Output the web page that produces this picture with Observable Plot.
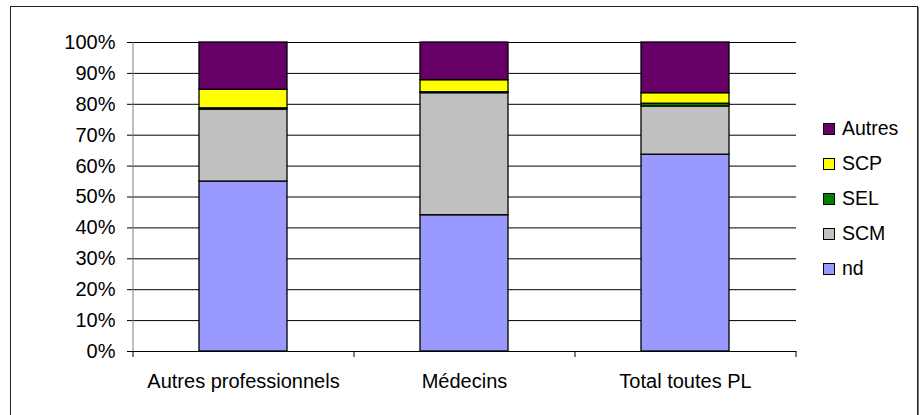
<!DOCTYPE html>
<html>
<head>
<meta charset="utf-8">
<script src="https://cdn.jsdelivr.net/npm/d3@7"></script>
<script src="https://cdn.jsdelivr.net/npm/@observablehq/plot@0.6"></script>
<style>
  html, body { margin: 0; padding: 0; background: #fff; }
  #wrap { position: relative; width: 924px; height: 415px; overflow: hidden; font-family: "Liberation Sans", Arial, sans-serif; }
  #frame { position: absolute; left: 10px; top: 6px; width: 906px; height: 420px; border: 1px solid #222; box-shadow: 1px 1px 0 #777; pointer-events: none; }
  #legend { position: absolute; left: 823px; top: 111px; font-size: 19.5px; color: #000; }
  .row { height: 35px; display: flex; align-items: center; }
  .sw { width: 10px; height: 10px; border: 1px solid #000; margin-right: 7px; }
</style>
</head>
<body>
<div id="wrap"><div id="frame"></div><div id="legend"></div></div>
<script>
const categories = ["Autres professionnels", "Médecins", "Total toutes PL"];
const series = ["nd", "SCM", "SEL", "SCP", "Autres"];           // bottom to top
const colors = ["#9999FF", "#C0C0C0", "#008000", "#FFFF00", "#660066"];
const nd     = [55.0, 44.1, 63.7];
const scm    = [23.3, 39.5, 15.6];
const sel    = [0.4, 0.3, 0.9];
const scp    = [6.0, 3.9, 3.4];
const autres = [15.3, 12.2, 16.4];
const yTicks = [0, 10, 20, 30, 40, 50, 60, 70, 80, 90, 100];

const valuesBySeries = [nd, scm, sel, scp, autres];
const data = [];
series.forEach((s, si) => categories.forEach((c, ci) => data.push({category: c, series: s, value: valuesBySeries[si][ci]})));

const W = 924, H = 415, mL = 133, mR = 128, mT = 42, mB = 64;
const step = (W - mL - mR) / categories.length;

const chart = Plot.plot({
  width: W, height: H,
  marginLeft: mL, marginRight: mR, marginTop: mT, marginBottom: mB,
  style: {fontFamily: "'Liberation Sans', Arial, sans-serif", fontSize: "20px", background: "transparent", color: "#000"},
  x: {domain: categories, paddingInner: 0.6, paddingOuter: 0.3, label: null},
  y: {domain: [0, 100], label: null},
  color: {domain: series, range: colors},
  marks: [
    Plot.gridY(yTicks, {stroke: "#000", strokeOpacity: 1, strokeWidth: 1}),
    Plot.barY(data, Plot.stackY({order: series}, {x: "category", y: "value", fill: "series", stroke: "#000", strokeWidth: 1.3})),
    Plot.axisY(yTicks, {tickFormat: d => d + "%", tickSize: 6, tickPadding: 12, stroke: "#000", fontSize: 20}),
    Plot.axisX({tickSize: 0, tickPadding: 22, fontSize: 20}),
    Plot.axisX(categories, {tickSize: 6, text: null, dx: -step / 2, stroke: "#000"}),
    Plot.axisX([categories[categories.length - 1]], {tickSize: 6, text: null, dx: step / 2, stroke: "#000"}),
    Plot.ruleY([0], {stroke: "#000"})
  ]
});
document.getElementById("wrap").prepend(chart);

// y axis line (gray) drawn from the y scale range
const ys = chart.scale("y");
d3.select(chart).append("line")
  .attr("x1", mL).attr("x2", mL)
  .attr("y1", ys.apply(0)).attr("y2", ys.apply(100))
  .attr("stroke", "#808080");

// legend (top to bottom: reversed stack order)
const legend = d3.select("#legend");
series.slice().reverse().forEach(s => {
  const row = legend.append("div").attr("class", "row");
  row.append("div").attr("class", "sw").style("background", colors[series.indexOf(s)]);
  row.append("span").text(s);
});
</script>
</body>
</html>
